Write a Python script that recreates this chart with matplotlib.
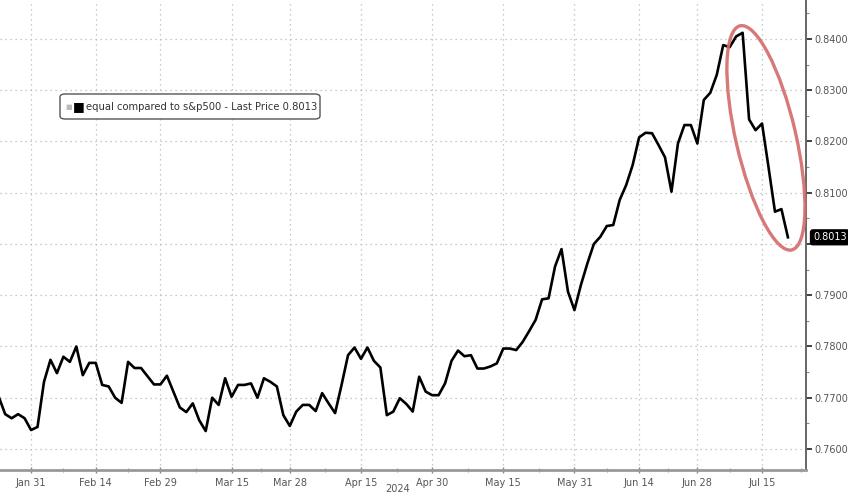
import numpy as np
import pandas as pd
import matplotlib
matplotlib.use("Agg")
import matplotlib.pyplot as plt
from matplotlib.patches import Ellipse, FancyBboxPatch
from matplotlib.transforms import ScaledTranslation
from matplotlib.ticker import MultipleLocator, FixedLocator, FuncFormatter

#%% data (equal weight vs s&p500 ratio, daily)
holidays = ["2024-02-19", "2024-03-29", "2024-05-27", "2024-06-19", "2024-07-04"]
dates = pd.bdate_range("2024-01-24", "2024-07-19", freq="C", holidays=holidays)

ratio = [
    0.7702, 0.7668, 0.7660, 0.7668, 0.7660, 0.7637, 0.7643, 0.7731, 0.7774, 0.7748,
    0.7780, 0.7770, 0.7800, 0.7744, 0.7768, 0.7768, 0.7725, 0.7722, 0.7700, 0.7690,
    0.7770, 0.7758, 0.7758, 0.7742, 0.7726, 0.7726, 0.7743, 0.7712, 0.7681, 0.7672,
    0.7689, 0.7656, 0.7635, 0.7700, 0.7686, 0.7738, 0.7702, 0.7725, 0.7725, 0.7728,
    0.7700, 0.7738, 0.7731, 0.7722, 0.7666, 0.7645, 0.7673, 0.7686, 0.7686, 0.7674,
    0.7709, 0.7689, 0.7670, 0.7725, 0.7783, 0.7798, 0.7776, 0.7798, 0.7772, 0.7759,
    0.7666, 0.7673, 0.7699, 0.7688, 0.7673, 0.7741, 0.7712, 0.7705, 0.7705, 0.7728,
    0.7772, 0.7792, 0.7781, 0.7783, 0.7757, 0.7757, 0.7761, 0.7767, 0.7796, 0.7796,
    0.7793, 0.7809, 0.7830, 0.7852, 0.7892, 0.7894, 0.7956, 0.7990, 0.7907, 0.7871,
    0.7920, 0.7962, 0.8000, 0.8014, 0.8035, 0.8037, 0.8086, 0.8115, 0.8154, 0.8208,
    0.8217, 0.8216, 0.8193, 0.8169, 0.8102, 0.8196, 0.8232, 0.8232, 0.8196, 0.8281,
    0.8295, 0.8330, 0.8388, 0.8384, 0.8405, 0.8412, 0.8243, 0.8222, 0.8235, 0.8150,
    0.8063, 0.8068, 0.8013,
]
assert len(ratio) == len(dates)

tick_dates = ["2024-01-31", "2024-02-14", "2024-02-29", "2024-03-15", "2024-03-28",
              "2024-04-15", "2024-04-30", "2024-05-15", "2024-05-31", "2024-06-14",
              "2024-06-28", "2024-07-15"]
tick_labels = ["Jan 31", "Feb 14", "Feb 29", "Mar 15", "Mar 28", "Apr 15",
               "Apr 30", "May 15", "May 31", "Jun 14", "Jun 28", "Jul 15"]
last_price = ratio[-1]
label = "equal compared to s&p500 - Last Price %.4f" % last_price

#%% plot on a trading-day axis (no gaps for weekends)
xi = np.arange(len(dates))
tick_pos = [dates.get_loc(pd.Timestamp(d)) for d in tick_dates]

fig = plt.figure(figsize=(8.48, 4.98), dpi=100)
ax = fig.add_axes([0.0, 0.0562, 0.9505, 0.9438])

ax.plot(xi, ratio, color="black", lw=1.9, solid_joinstyle="round", zorder=3)

ax.set_xlim(0.2, 124.8)
ax.set_ylim(0.7559, 0.8476)

ax.xaxis.set_major_locator(FixedLocator(tick_pos))
ax.set_xticklabels(tick_labels)
mids = [(a + b) / 2 for a, b in zip(tick_pos[:-1], tick_pos[1:])] + [tick_pos[-1] + 6]
ax.xaxis.set_minor_locator(FixedLocator(mids))

def yfmt(v, p):
    # the 0.8000 label sits behind the last price tag
    if abs(v - round(last_price, 2)) < 1e-6:
        return ""
    return "%.4f" % v

ax.yaxis.tick_right()
ax.yaxis.set_major_locator(MultipleLocator(0.01))
ax.yaxis.set_minor_locator(MultipleLocator(0.005))
ax.yaxis.set_major_formatter(FuncFormatter(yfmt))

ax.grid(True, which="major", color="#b8b8b8", lw=0.9, linestyle=(0, (1, 3)))

for s in ["top", "left"]:
    ax.spines[s].set_visible(False)
ax.spines["right"].set_color("#666666")
ax.spines["right"].set_linewidth(1.4)
ax.spines["bottom"].set_color("#999999")
ax.spines["bottom"].set_linewidth(2)

ax.tick_params(axis="y", which="major", direction="out", length=4, width=1.3,
               color="#333333", labelsize=7, labelcolor="#555555", pad=2)
ax.tick_params(axis="y", which="minor", direction="out", length=2, width=0.8, color="#888888")
ax.tick_params(axis="x", which="major", direction="inout", length=5, width=1,
               color="#888888", labelsize=7, labelcolor="#555555", pad=3)
ax.tick_params(axis="x", which="minor", direction="inout", length=3, width=0.8, color="#999999")

fig.text(398 / 848, 0.012, "2024", fontsize=7, color="#555555", ha="center")

# legend box
fig.patches.append(FancyBboxPatch((60 / 848, 1 - 119 / 498), 260 / 848, 25 / 498,
                                  boxstyle="round,pad=0,rounding_size=0.006",
                                  transform=fig.transFigure, fc="white", ec="#555555",
                                  lw=1, zorder=5))
ly = 1 - 106.5 / 498
fig.text(65 / 848, ly, "\u25a0", fontsize=5, color="#bbbbbb", va="center", zorder=6)
fig.text(73 / 848, ly, "\u25a0", fontsize=9, color="black", va="center", zorder=6)
fig.text(86 / 848, ly, label, fontsize=7.2, color="#333333", va="center", zorder=6)

# last price tag
ax.annotate("%.4f" % last_price, xy=(1, last_price), xycoords=("axes fraction", "data"),
            xytext=(5, 0), textcoords="offset points", fontsize=7, color="white",
            va="center", ha="left", annotation_clip=False,
            bbox=dict(boxstyle="round,pad=0.25", fc="black", ec="black"), zorder=6)

# red ellipse around the drop
ell = Ellipse((0, 0), 0.60, 2.30, angle=13, fill=False, ec="#d46a6a", lw=2.4, alpha=0.9,
              transform=fig.dpi_scale_trans + ScaledTranslation(118.6, 0.8207, ax.transData),
              zorder=4, clip_on=False)
ax.add_artist(ell)

fig.savefig("out.png", dpi=100, facecolor="white")
